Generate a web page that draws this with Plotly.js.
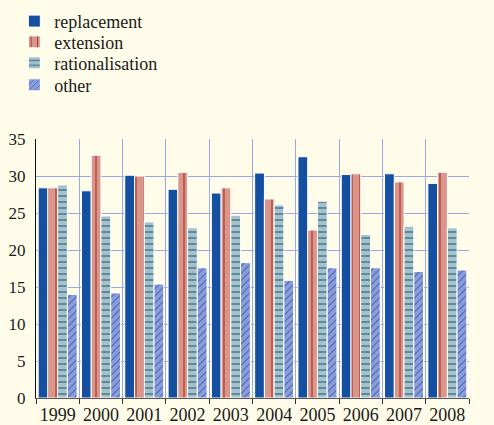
<!DOCTYPE html>
<html>
<head>
<meta charset="utf-8">
<script src="https://cdn.plot.ly/plotly-3.0.1.min.js"></script>
<style>
html,body{margin:0;padding:0;background:#fffde9;}
#chart{width:494px;height:425px;}
</style>
</head>
<body>
<div id="chart"></div>
<script>
const years = ['1999','2000','2001','2002','2003','2004','2005','2006','2007','2008'];
const replacement     = [28.4, 28.0, 30.1, 28.2, 27.7, 30.4, 32.6, 30.2, 30.3, 29.0];
const extension       = [28.4, 32.8, 30.0, 30.5, 28.4, 26.9, 22.7, 30.3, 29.2, 30.5];
const rationalisation = [28.8, 24.6, 23.8, 23.0, 24.7, 26.1, 26.6, 22.1, 23.2, 23.0];
const other           = [14.0, 14.2, 15.4, 17.6, 18.3, 15.9, 17.6, 17.6, 17.1, 17.3];
const yTicks = [0, 5, 10, 15, 20, 25, 30, 35];

const outline = {color: '#ffffff', width: 1};
const traces = [
  {type: 'bar', name: 'replacement', x: years, y: replacement, legend: 'legend',
   marker: {color: '#14509f', line: outline}},
  {type: 'bar', name: 'extension', x: years, y: extension, legend: 'legend2',
   marker: {color: '#d9968a', line: outline,
            pattern: {shape: '|', fgcolor: '#b2352a', bgcolor: '#d9968a', size: 8, solidity: 0.15}}},
  {type: 'bar', name: 'rationalisation', x: years, y: rationalisation, legend: 'legend3',
   marker: {color: '#a9c0cb', line: outline,
            pattern: {shape: '-', fgcolor: '#4b8898', bgcolor: '#a9c0cb', size: 6, solidity: 0.3}}},
  {type: 'bar', name: 'other', x: years, y: other, legend: 'legend4',
   marker: {color: '#8c9ed9', line: outline,
            pattern: {shape: '/', fgcolor: '#3f5fb2', bgcolor: '#8c9ed9', size: 5, solidity: 0.2}}}
];

const fam = 'Liberation Serif';
function leg(y) {
  return {x: -0.05, xanchor: 'left', y: y, yanchor: 'middle', bgcolor: 'rgba(0,0,0,0)',
          font: {family: fam, size: 18, color: '#1a1a1a'}};
}
const layout = {
  width: 494, height: 425,
  paper_bgcolor: '#fffde9', plot_bgcolor: '#fffde9',
  font: {family: fam, size: 17, color: '#1a1a1a'},
  margin: {l: 36, r: 25, t: 139, b: 27, pad: 0, autoexpand: false},
  barmode: 'group', bargap: 0.1, bargroupgap: 0,
  showlegend: true,
  legend: leg(1.4540), legend2: leg(1.3739), legend3: leg(1.2929), legend4: leg(1.2079),
  xaxis: {type: 'category', tickson: 'boundaries', showgrid: true, gridcolor: '#9aa8ea', gridwidth: 1,
          ticks: 'outside', ticklen: 5, tickcolor: '#333333', showline: true, linecolor: '#555555',
          linewidth: 1, tickangle: 0, tickfont: {family: fam, size: 18, color: '#1a1a1a'}, zeroline: false},
  yaxis: {range: [0, 35], tickvals: yTicks, ticktext: yTicks.map(String), showgrid: true,
          gridcolor: '#9aa8ea', gridwidth: 1, zeroline: false, showline: true, linecolor: '#111111',
          linewidth: 1, ticks: '', ticklabelstandoff: 6,
          tickfont: {family: fam, size: 17, color: '#1a1a1a'}},
  yaxis2: {range: [0, 35], tickvals: yTicks, ticktext: yTicks.map(String), overlaying: 'y', side: 'right',
           showgrid: false, zeroline: false, showline: true, linecolor: '#111111', linewidth: 1,
           ticks: '', ticklabelstandoff: 6, anchor: 'x',
           tickfont: {family: fam, size: 17, color: '#1a1a1a'}}
};
Plotly.newPlot('chart', traces, layout, {staticPlot: true, displayModeBar: false});
</script>
</body>
</html>
